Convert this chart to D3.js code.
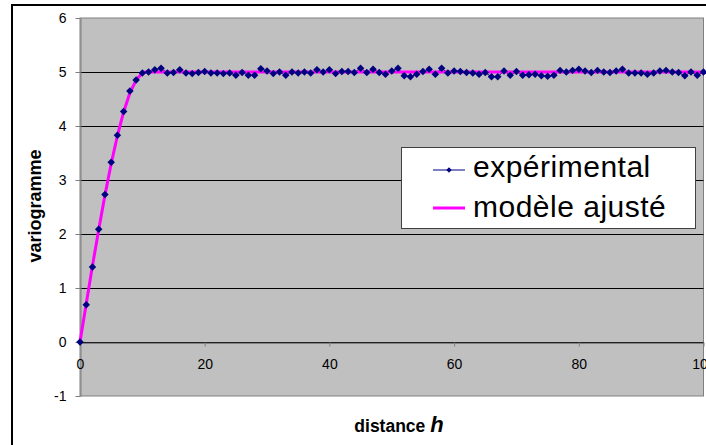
<!DOCTYPE html>
<html>
<head>
<meta charset="utf-8">
<script src="https://cdn.jsdelivr.net/npm/d3@7"></script>
<style>
  html, body { margin: 0; padding: 0; background: #ffffff; }
  svg { display: block; }
</style>
</head>
<body>
<svg id="chart" width="706" height="445"></svg>
<script>
// ---- data ----
const expValues = [
  0, 0.69, 1.39, 2.09, 2.73, 3.33, 3.83, 4.27, 4.65, 4.85,
  4.98, 5.00, 5.04, 5.07, 4.98, 4.99, 5.04, 4.98, 4.97, 4.99,
  5.01, 4.98, 4.98, 4.97, 4.98, 4.94, 4.99, 4.94, 4.94, 5.06,
  5.02, 4.97, 5.00, 4.94, 5.00, 4.98, 5.00, 4.98, 5.04, 5.00,
  5.04, 4.97, 5.01, 5.01, 4.99, 5.07, 4.99, 5.05, 4.99, 4.96,
  5.02, 5.07, 4.93, 4.91, 4.96, 5.01, 5.05, 4.96, 5.07, 4.98,
  5.02, 5.01, 4.99, 4.98, 4.96, 4.99, 4.91, 4.91, 5.02, 4.94,
  5.01, 4.94, 4.95, 4.96, 4.93, 4.92, 4.94, 5.03, 5.00, 5.03,
  5.05, 5.02, 4.99, 5.03, 5.00, 4.99, 5.02, 5.05, 4.98, 4.98,
  4.98, 4.96, 4.98, 5.02, 5.03, 5.00, 4.99, 4.93, 5.00, 4.94,
  5.00
];
const expDistances = d3.range(0, expValues.length);
const modelDistances = [0, 1, 2, 3, 4, 5, 6, 7, 8, 9, 10, 10.5, 100];
const modelValues    = [0, 0.71, 1.41, 2.08, 2.72, 3.30, 3.82, 4.26, 4.61, 4.85, 4.98, 5.0, 5.0];
const yTicks = [-1, 0, 1, 2, 3, 4, 5, 6];
const xTicks = [0, 20, 40, 60, 80, 100];
const legendLabels = ["expérimental", "modèle ajusté"];
const xTitle = "distance";
const xTitleVar = "h";
const yTitle = "variogramme";

// ---- layout ----
const svg = d3.select("#chart");
const FONT = "'Liberation Sans', Arial, sans-serif";
const plot = { left: 80, right: 703.5, top: 18, bottom: 396 };

const x = d3.scaleLinear().domain([0, 100]).range([plot.left, plot.right]);
const y = d3.scaleLinear().domain([-1, 6]).range([plot.bottom, plot.top]);

// outer chart frame
svg.append("rect")
  .attr("x", 12).attr("y", 5).attr("width", 760).attr("height", 480)
  .attr("fill", "#ffffff").attr("stroke", "#000000").attr("stroke-width", 2);

// plot area
svg.append("rect")
  .attr("x", plot.left).attr("y", plot.top)
  .attr("width", plot.right - plot.left).attr("height", plot.bottom - plot.top)
  .attr("fill", "#c0c0c0").attr("stroke", "#808080").attr("stroke-width", 1);

// gridlines
svg.append("g").selectAll("line")
  .data(yTicks.filter(d => d > -1 && d < 6))
  .join("line")
  .attr("x1", plot.left).attr("x2", plot.right)
  .attr("y1", d => Math.round(y(d)) + 0.5).attr("y2", d => Math.round(y(d)) + 0.5)
  .attr("stroke", "#000000").attr("stroke-width", 1);

// y axis
const yAxis = svg.append("g")
  .attr("transform", `translate(${plot.left + 0.5},0)`)
  .call(d3.axisLeft(y).tickValues(yTicks).tickSize(5).tickSizeOuter(0).tickPadding(9)
    .tickFormat(d => String(d)));
yAxis.select(".domain").attr("stroke", "#808080");
yAxis.selectAll(".tick line").attr("stroke", "#808080");
yAxis.selectAll(".tick text").attr("font-family", FONT).attr("font-size", 14).attr("fill", "#000");

// x axis at y = 0
const xAxis = svg.append("g")
  .attr("transform", `translate(0,${Math.round(y(0)) + 0.5})`)
  .call(d3.axisBottom(x).tickValues(xTicks).tickSize(4).tickSizeOuter(0).tickPadding(13)
    .tickFormat(d => String(d)));
xAxis.select(".domain").attr("stroke", "#404040");
xAxis.selectAll(".tick line").attr("stroke", "#808080");
xAxis.selectAll(".tick text").attr("font-family", FONT).attr("font-size", 14).attr("fill", "#000");

// series
const expData = expDistances.map((h, i) => ({ h, g: expValues[i] }));
const modelData = modelDistances.map((h, i) => ({ h, g: modelValues[i] }));
const line = d3.line().x(d => x(d.h)).y(d => y(d.g));

svg.append("path").datum(expData)
  .attr("d", line).attr("fill", "none")
  .attr("stroke", "#000080").attr("stroke-width", 1);

svg.append("path").datum(modelData)
  .attr("d", line).attr("fill", "none")
  .attr("stroke", "#ff00ff").attr("stroke-width", 3).attr("stroke-linejoin", "round");

const diamond = {
  draw(ctx, size) {
    const r = Math.sqrt(size / 2);
    ctx.moveTo(0, -r); ctx.lineTo(r, 0); ctx.lineTo(0, r); ctx.lineTo(-r, 0); ctx.closePath();
  }
};
svg.append("g").selectAll("path")
  .data(expData)
  .join("path")
  .attr("transform", d => `translate(${x(d.h)},${y(d.g)})`)
  .attr("d", d3.symbol(diamond, 28))
  .attr("fill", "#000080");

// axis titles
svg.append("text")
  .attr("transform", `translate(41,206) rotate(-90)`)
  .attr("text-anchor", "middle")
  .attr("font-family", FONT).attr("font-weight", "bold").attr("font-size", 18)
  .text(yTitle);

const xt = svg.append("text")
  .attr("x", 399).attr("y", 432)
  .attr("text-anchor", "middle")
  .attr("font-family", FONT).attr("font-weight", "bold").attr("font-size", 17.5);
xt.append("tspan").text(xTitle + "  ");
xt.append("tspan").attr("font-style", "italic").attr("font-size", 22).text(xTitleVar);

// legend
const lg = svg.append("g");
lg.append("rect")
  .attr("x", 401.5).attr("y", 147.5).attr("width", 294).attr("height", 81)
  .attr("fill", "#ffffff").attr("stroke", "#404040").attr("stroke-width", 1);
const rows = [170, 208];
lg.append("line").attr("x1", 433).attr("x2", 465).attr("y1", rows[0]).attr("y2", rows[0])
  .attr("stroke", "#000080").attr("stroke-width", 1);
lg.append("path").attr("transform", `translate(449,${rows[0]})`)
  .attr("d", d3.symbol(diamond, 14)).attr("fill", "#000080");
lg.append("line").attr("x1", 433).attr("x2", 465).attr("y1", rows[1]).attr("y2", rows[1])
  .attr("stroke", "#ff00ff").attr("stroke-width", 3);
lg.selectAll("text.lbl").data(legendLabels).join("text")
  .attr("class", "lbl")
  .attr("x", 473).attr("y", (d, i) => [177, 217][i])
  .attr("font-family", FONT).attr("font-size", 30).attr("letter-spacing", 0.5).attr("fill", "#000")
  .text(d => d);
</script>
</body>
</html>
